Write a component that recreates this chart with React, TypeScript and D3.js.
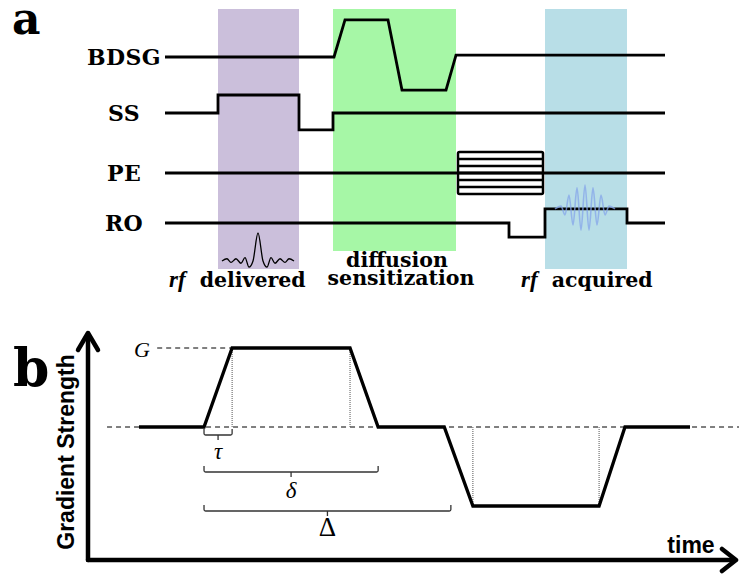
import React from 'react';
import * as d3 from 'd3';

// ---------- Panel a: pulse sequence ----------
const channels = ['BDSG', 'SS', 'PE', 'RO'];
const bdsgT = [0, 33.8, 36, 44.6, 47.4, 56.2, 58.2, 100];
const bdsgA = [0, 0, 1.03, 1.03, -0.92, -0.92, 0.05, 0.05];
const ssT = [0, 10.6, 10.6, 26.8, 26.8, 33.6, 33.6, 100];
const ssA = [0, 0, 0.5, 0.5, -0.47, -0.47, 0, 0];
const peT = [0, 100];
const peA = [0, 0];
const roT = [0, 68.8, 68.8, 76, 76, 92.4, 92.4, 100];
const roA = [0, 0, -0.39, -0.39, 0.39, 0.39, 0, 0];
const peBoxT = [58.6, 75.6];
const peLevels = [-0.58, -0.387, -0.193, 0, 0.193, 0.387, 0.58];

const windowNames = ['rf delivered', 'diffusion sensitization', 'rf acquired'];
const windowStart = [10.6, 33.6, 76];
const windowEnd = [26.8, 58.2, 92.4];

// rf delivered (sinc) key points: time offset, relative amplitude
const sincCenter = 18.6;
const sincT = [-7.2, -6.2, -5.4, -4.4, -3.4, -2.6, -1.8, -1, 0, 1, 1.8, 2.6, 3.4, 4.4, 5.4, 6.2, 7.2];
const sincA = [0, 0.08, -0.05, 0.08, -0.08, 0.12, -0.22, 0, 1, 0, -0.22, 0.12, -0.08, 0.08, -0.05, 0.08, 0];

// rf acquired (echo) key points
const echoCenter = 84;
const echoT = [-6, -4.8, -4, -3.2, -2.4, -1.6, -0.8, 0, 0.8, 1.6, 2.4, 3.2, 4, 4.8, 6];
const echoA = [0, 0.12, -0.25, 0.58, -0.67, 0.88, -0.88, 1, -0.88, 0.88, -0.67, 0.58, -0.25, 0.12, 0];

// ---------- Panel b: gradient waveform ----------
const gradT = [0, 11.8, 16.9, 38.3, 43.4, 55.4, 60.6, 83.5, 88.2, 100];
const gradA = [0, 0, 1, 1, 0, 0, -1, -1, 0, 0];
const dottedT = [16.9, 38.3, 60.6, 83.5];
const dottedA = [1, 1, -1, -1];
const bracketLabels = ['τ', 'δ', 'Δ'];
const bracketStart = [11.8, 11.8, 11.8];
const bracketEnd = [16.9, 43.4, 56.6];

export default function App() {
  // layout
  const W = 739, H = 575;
  const xA = d3.scaleLinear().domain([0, 100]).range([165, 665]);
  const base = d3.scaleOrdinal<string, number>().domain(channels).range([57, 113, 173, 223]);
  const ampPx = 36;
  const colors = ['#cbbfdb', '#a6f7a6', '#b8dee7'];
  const rectBottom = [269, 251, 269];

  const line = d3.line<[number, number]>();
  const chanPath = (name: string, T: number[], A: number[]) =>
    line(T.map((t, i) => [xA(t), base(name) - A[i] * ampPx]));

  const smooth = d3.line<[number, number]>().curve(d3.curveMonotoneX);
  const sincPath = smooth(sincT.map((t, i) => [xA(sincCenter + t), 261 - sincA[i] * 28]));
  const echoY = base('RO') - roA[5] * ampPx;
  const echoPath = smooth(echoT.map((t, i) => [xA(echoCenter + t), echoY - echoA[i] * 24]));

  const xB = d3.scaleLinear().domain([0, 100]).range([139, 690]);
  const yB = d3.scaleLinear().domain([-1, 1]).range([506, 348]);
  const gradPath = line(gradT.map((t, i) => [xB(t), yB(gradA[i])]));
  const bracketY = [435, 472, 511];
  const labelY = [459, 498, 536];
  const labelSize = [23, 23, 27];

  const bracket = (x0: number, x1: number, y: number) => {
    const xm = (x0 + x1) / 2;
    return `M${x0},${y - 6} V${y - 1.5} Q${x0},${y} ${x0 + 1.5},${y} H${x1 - 1.5} Q${x1},${y} ${x1},${y - 1.5} V${y - 6} M${xm},${y} V${y + 5}`;
  };

  const serifB = '"DejaVu Serif", serif';
  const times = '"Liberation Serif", "DejaVu Serif", serif';
  const sans = '"Liberation Sans", Arial, sans-serif';

  return (
    <svg width={W} height={H} style={{ position: 'absolute', left: 0, top: 0, background: '#fff' }}>
      {/* panel label a */}
      <text x={12} y={34} fontFamily={serifB} fontWeight="bold" fontSize={44}>a</text>
      {/* window backgrounds */}
      {windowNames.map((n, i) => (
        <rect key={n} x={xA(windowStart[i])} y={9} width={xA(windowEnd[i]) - xA(windowStart[i])}
          height={rectBottom[i] - 9} fill={colors[i]} />
      ))}
      {/* channel labels */}
      {channels.map(c => (
        <text key={c} x={124} y={base(c) + 8} textAnchor="middle" fontFamily={serifB}
          fontWeight="bold" fontSize={22} letterSpacing={0.4}>{c}</text>
      ))}
      <g fill="none" stroke="#000" strokeWidth={2.8} strokeLinejoin="miter">
        <path d={chanPath('BDSG', bdsgT, bdsgA) || ''} />
        <path d={chanPath('SS', ssT, ssA) || ''} />
        <path d={chanPath('PE', peT, peA) || ''} />
        <path d={chanPath('RO', roT, roA) || ''} />
      </g>
      <g fill="none" stroke="#000" strokeWidth={2.5}>
        <rect x={xA(peBoxT[0])} y={base('PE') - peLevels[6] * ampPx}
          width={xA(peBoxT[1]) - xA(peBoxT[0])} height={(peLevels[6] - peLevels[0]) * ampPx} rx={1.5} />
        {peLevels.slice(1, 6).map(l => (
          <line key={l} x1={xA(peBoxT[0])} x2={xA(peBoxT[1])} y1={base('PE') - l * ampPx} y2={base('PE') - l * ampPx} />
        ))}
      </g>
      <path d={sincPath || ''} fill="none" stroke="#000" strokeWidth={1.3} />
      <path d={echoPath || ''} fill="none" stroke="#86a6ea" strokeOpacity={0.75} strokeWidth={1.6} />
      {/* window labels */}
      <text x={169} y={287}>
        <tspan fontFamily={times} fontStyle="italic" fontWeight="bold" fontSize={23}>rf</tspan>
        <tspan dx={14} fontFamily={serifB} fontWeight="bold" fontSize={20.5}>delivered</tspan>
      </text>
      <text x={397} y={267} textAnchor="middle" fontFamily={serifB} fontWeight="bold" fontSize={20.5}>diffusion</text>
      <text x={401} y={285} textAnchor="middle" fontFamily={serifB} fontWeight="bold" fontSize={20.5}>sensitization</text>
      <text x={521} y={287}>
        <tspan fontFamily={times} fontStyle="italic" fontWeight="bold" fontSize={23}>rf</tspan>
        <tspan dx={14} fontFamily={serifB} fontWeight="bold" fontSize={20.5}>acquired</tspan>
      </text>

      {/* ---------- panel b ---------- */}
      <text x={13} y={386} fontFamily={serifB} fontWeight="bold" fontSize={52}>b</text>
      <text transform={`translate(74,452) rotate(-90)`} textAnchor="middle" fontFamily={sans}
        fontWeight="bold" fontSize={23}>Gradient Strength</text>
      <text x={691} y={553} textAnchor="middle" fontFamily={sans} fontWeight="bold" fontSize={23}>time</text>
      {/* axes */}
      <g fill="none" stroke="#000" strokeWidth={4.5} strokeLinecap="round" strokeLinejoin="round">
        <path d={`M88,560 V335`} />
        <path d={`M78,350 L88,333 L98,350`} />
        <path d={`M88,560 H735`} />
        <path d={`M722,549 L736,560 L722,571`} />
      </g>
      {/* dashed reference lines */}
      <line x1={xB(-5.8)} x2={W} y1={yB(0)} y2={yB(0)} stroke="#000" strokeWidth={1} strokeDasharray="5,4" />
      <line x1={xB(3.3)} x2={xB(16.9)} y1={yB(1)} y2={yB(1)} stroke="#000" strokeWidth={1} strokeDasharray="5,4" />
      <text x={142} y={357} textAnchor="middle" fontFamily={times} fontStyle="italic" fontSize={22}>G</text>
      {/* dotted verticals */}
      {dottedT.map((t, i) => (
        <line key={t} x1={xB(t)} x2={xB(t)} y1={yB(0)} y2={yB(dottedA[i])} stroke="#555" strokeWidth={1}
          strokeDasharray="1,1" />
      ))}
      <path d={gradPath || ''} fill="none" stroke="#000" strokeWidth={3.3} strokeLinejoin="miter" />
      {/* brackets */}
      {bracketLabels.map((l, i) => (
        <g key={l}>
          <path d={bracket(xB(bracketStart[i]), xB(bracketEnd[i]), bracketY[i])} fill="none" stroke="#333" strokeWidth={1.3} />
          <text x={(xB(bracketStart[i]) + xB(bracketEnd[i])) / 2} y={labelY[i]} textAnchor="middle"
            fontFamily={times} fontStyle={i < 2 ? 'italic' : 'normal'} fontSize={labelSize[i]}>{l}</text>
        </g>
      ))}
    </svg>
  );
}
